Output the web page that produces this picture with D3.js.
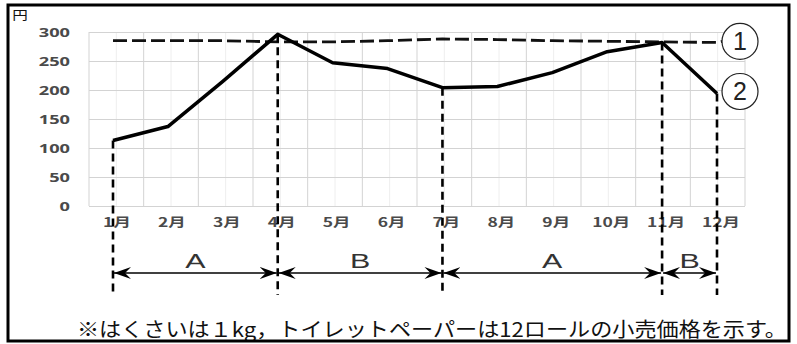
<!DOCTYPE html>
<html>
<head>
<meta charset="utf-8">
<script src="https://cdn.jsdelivr.net/npm/d3@7"></script>
<style>
  html, body { margin: 0; padding: 0; background: #fff; }
  svg { display: block; }
</style>
</head>
<body>
<div id="chart"></div>
<script>
// Chart data
const months = ["1月", "2月", "3月", "4月", "5月", "6月", "7月", "8月", "9月", "10月", "11月", "12月"];
const priceLine = [113, 137, 215, 296, 247, 237, 204, 206, 230, 266, 282, 194]; // series ②
const refLine = [285, 285, 285, 283, 283, 285, 288, 287, 285, 284, 283, 282];   // series ①
const yTicks = [0, 50, 100, 150, 200, 250, 300];
const markMonths = ["1月", "4月", "7月", "11月", "12月"];
const spans = [
  { from: "1月", to: "4月", label: "A" },
  { from: "4月", to: "7月", label: "B" },
  { from: "7月", to: "11月", label: "A" },
  { from: "11月", to: "12月", label: "B" }
];
const seriesNames = ["1", "2"];
const unitLabel = "円";
const noteText = "※はくさいは１kg，トイレットペーパーは12ロールの小売価格を示す。";

const width = 797, height = 344;
const svg = d3.select("#chart").append("svg")
  .attr("width", width)
  .attr("height", height);

// scales
const x = d3.scalePoint().domain(months).range([113, 717]);
const band = d3.scaleBand().domain(months).range([89, 745]);
const y = d3.scaleLinear().domain([0, 300]).range([206, 32]);
const plotW = band.range()[1] - band.range()[0];
const stretch = 1.4;

// faint minor vertical lines at category centres
svg.append("g")
  .selectAll("line")
  .data(months)
  .join("line")
  .attr("x1", d => band(d) + band.bandwidth() / 2)
  .attr("x2", d => band(d) + band.bandwidth() / 2)
  .attr("y1", y(300))
  .attr("y2", y(0))
  .attr("stroke", "#eeeeee")
  .attr("stroke-width", 1);

// vertical grid lines at category boundaries
const bounds = months.map(m => band(m)).concat([band.range()[1]]);
svg.append("g")
  .selectAll("line")
  .data(bounds)
  .join("line")
  .attr("x1", d => d)
  .attr("x2", d => d)
  .attr("y1", y(300))
  .attr("y2", y(0))
  .attr("stroke", "#d3d3d3")
  .attr("stroke-width", 1);

// y axis with horizontal grid lines
svg.append("g")
  .attr("transform", `translate(${band.range()[0]},0)`)
  .call(d3.axisLeft(y).tickValues(yTicks).tickSize(-plotW).tickPadding(19))
  .call(g => g.select(".domain").remove())
  .call(g => g.selectAll(".tick line").attr("stroke", "#d3d3d3"))
  .call(g => g.selectAll(".tick text")
    .attr("x", -19 / stretch)
    .attr("transform", `scale(${stretch},1)`)
    .attr("fill", "#4a4a4a")
    .attr("font-family", "'Noto Sans', sans-serif")
    .attr("font-weight", "bold")
    .attr("font-size", 13));

// x labels
svg.append("g")
  .selectAll("text")
  .data(months)
  .join("text")
  .attr("transform", d => `translate(${x(d) + 4},227) scale(${stretch},1)`)
  .attr("text-anchor", "middle")
  .attr("fill", "#4a4a4a")
  .attr("font-family", "'Noto Sans CJK JP', sans-serif")
  .attr("font-weight", "bold")
  .attr("font-size", 12.5)
  .text(d => d);

// unit label
svg.append("text")
  .attr("transform", `translate(20,20) scale(1.3,1)`)
  .attr("text-anchor", "middle")
  .attr("font-family", "'Noto Sans CJK JP', sans-serif")
  .attr("font-size", 12)
  .attr("fill", "#111")
  .text(unitLabel);

// circle label positions
const r = 18;
const cx = x(months[months.length - 1]) + 23;
const c1y = y(refLine[refLine.length - 1]) - 1;
const c2y = y(priceLine[priceLine.length - 1]) - 2;

// series ① dashed line
const refPts = months.map((m, i) => [x(m), y(refLine[i])]);
refPts.push([cx - r, c1y]);
svg.append("path")
  .attr("d", d3.line()(refPts))
  .attr("fill", "none")
  .attr("stroke", "#111")
  .attr("stroke-width", 2.8)
  .attr("stroke-dasharray", "14,5");

// series ② solid line
svg.append("path")
  .datum(priceLine)
  .attr("d", d3.line().x((d, i) => x(months[i])).y(d => y(d)))
  .attr("fill", "none")
  .attr("stroke", "#000")
  .attr("stroke-width", 3.5)
  .attr("stroke-linejoin", "round");

// vertical dashed guide lines
const guideBottom = 295;
svg.append("g")
  .selectAll("line")
  .data(markMonths)
  .join("line")
  .attr("x1", d => x(d))
  .attr("x2", d => x(d))
  .attr("y1", d => y(priceLine[months.indexOf(d)]))
  .attr("y2", guideBottom)
  .attr("stroke", "#000")
  .attr("stroke-width", 2.6)
  .attr("stroke-dasharray", "8,5");

// circled series names
const circles = svg.append("g")
  .selectAll("g")
  .data([c1y, c2y])
  .join("g")
  .attr("transform", d => `translate(${cx},${d})`);
circles.append("circle")
  .attr("r", r)
  .attr("fill", "#fff")
  .attr("stroke", "#222")
  .attr("stroke-width", 1.2);
circles.append("text")
  .attr("y", 9)
  .attr("text-anchor", "middle")
  .attr("font-family", "'Liberation Sans', sans-serif")
  .attr("font-size", 25)
  .attr("fill", "#222")
  .text((d, i) => seriesNames[i]);

// arrow markers
const defs = svg.append("defs");
defs.append("marker")
  .attr("id", "arrow")
  .attr("viewBox", "0 -7 18 14")
  .attr("refX", 17)
  .attr("refY", 0)
  .attr("markerWidth", 18)
  .attr("markerHeight", 14)
  .attr("markerUnits", "userSpaceOnUse")
  .attr("orient", "auto-start-reverse")
  .append("path")
  .attr("d", "M17,0 L0,-6 L6,0 L0,6 Z")
  .attr("fill", "#000");

const arrowY = 273;
svg.append("g")
  .selectAll("line")
  .data(spans)
  .join("line")
  .attr("x1", d => x(d.from) + 1)
  .attr("x2", d => x(d.to) - 1)
  .attr("y1", arrowY)
  .attr("y2", arrowY)
  .attr("stroke", "#000")
  .attr("stroke-width", 1.6)
  .attr("marker-start", "url(#arrow)")
  .attr("marker-end", "url(#arrow)");

svg.append("g")
  .selectAll("text")
  .data(spans)
  .join("text")
  .attr("transform", d => `translate(${(x(d.from) + x(d.to)) / 2},268) scale(1.45,1)`)
  .attr("text-anchor", "middle")
  .attr("font-family", "'Liberation Sans', sans-serif")
  .attr("font-size", 21)
  .attr("fill", "#333")
  .text(d => d.label);

// footnote
svg.append("text")
  .attr("x", 77)
  .attr("y", 337)
  .attr("font-family", "'Noto Sans CJK JP', sans-serif")
  .attr("font-size", 20)
  .attr("fill", "#111")
  .attr("textLength", 710)
  .attr("lengthAdjust", "spacingAndGlyphs")
  .text(noteText);

// outer frame
svg.append("rect")
  .attr("x", 8)
  .attr("y", 5)
  .attr("width", 781)
  .attr("height", 336)
  .attr("fill", "none")
  .attr("stroke", "#000")
  .attr("stroke-width", 3);
</script>
</body>
</html>
